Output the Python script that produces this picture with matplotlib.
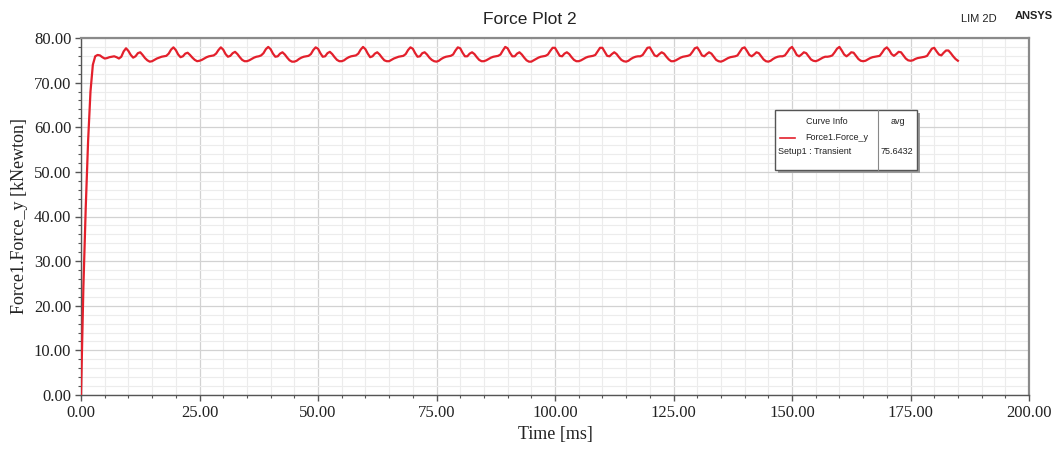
import numpy as np
import matplotlib
matplotlib.use("Agg")
import matplotlib.pyplot as plt
from matplotlib.ticker import MultipleLocator, FormatStrFormatter
from matplotlib.patches import Rectangle
from matplotlib.lines import Line2D

# ---------------- data ----------------
time_step_ms = 0.5
force_rise = [0.0, 24.0, 42.0, 57.0, 68.0, 74.0, 75.9, 76.2, 76.1, 75.7,
              75.4, 75.5, 75.7, 75.8, 75.9, 75.7, 75.4, 75.8, 77.0, 77.7]
force_p01 = [77.1, 76.2, 75.6, 75.9, 76.6, 76.8, 76.2, 75.5, 75.0, 74.7, 74.8, 75.1, 75.4, 75.6, 75.8, 75.9, 76.0, 76.5, 77.4, 77.9]
force_p02 = [77.3, 76.3, 75.7, 75.9, 76.5, 76.7, 76.2, 75.6, 75.1, 74.8, 74.9, 75.1, 75.4, 75.7, 75.9, 76.0, 76.1, 76.5, 77.3, 77.9]
force_p03 = [77.4, 76.4, 75.8, 76.0, 76.6, 76.9, 76.4, 75.7, 75.1, 74.8, 74.8, 75.0, 75.3, 75.6, 75.8, 75.9, 76.1, 76.6, 77.5, 78.0]
force_p04 = [77.5, 76.5, 75.8, 75.9, 76.5, 76.8, 76.3, 75.6, 75.0, 74.7, 74.7, 74.9, 75.3, 75.6, 75.8, 75.9, 76.0, 76.4, 77.3, 77.9]
force_p05 = [77.6, 76.6, 75.8, 75.9, 76.6, 76.9, 76.4, 75.7, 75.1, 74.8, 74.8, 75.0, 75.4, 75.7, 75.9, 76.0, 76.1, 76.5, 77.4, 78.0]
force_p06 = [77.5, 76.5, 75.7, 75.9, 76.5, 76.8, 76.3, 75.6, 75.0, 74.8, 74.8, 75.1, 75.4, 75.6, 75.8, 75.9, 76.0, 76.4, 77.3, 77.9]
force_p07 = [77.6, 76.6, 75.8, 75.9, 76.6, 76.8, 76.3, 75.6, 75.1, 74.8, 74.7, 74.9, 75.3, 75.6, 75.8, 75.9, 76.0, 76.3, 77.2, 77.9]
force_p08 = [77.7, 76.7, 75.9, 75.9, 76.5, 76.8, 76.4, 75.7, 75.1, 74.8, 74.8, 75.0, 75.3, 75.6, 75.8, 75.9, 76.0, 76.3, 77.2, 78.0]
force_p09 = [77.7, 76.7, 75.9, 75.9, 76.5, 76.8, 76.3, 75.6, 75.0, 74.7, 74.7, 75.0, 75.3, 75.6, 75.8, 75.9, 76.0, 76.3, 77.1, 77.8]
force_p10 = [77.8, 76.9, 76.0, 75.9, 76.5, 76.8, 76.4, 75.7, 75.1, 74.8, 74.8, 75.0, 75.3, 75.6, 75.8, 75.9, 76.0, 76.2, 77.0, 77.8]
force_p11 = [77.8, 76.9, 76.0, 75.9, 76.4, 76.8, 76.4, 75.7, 75.1, 74.8, 74.7, 74.9, 75.3, 75.6, 75.8, 75.9, 75.9, 76.2, 77.0, 77.8]
force_p12 = [77.9, 77.0, 76.1, 75.9, 76.4, 76.8, 76.5, 75.8, 75.2, 74.8, 74.8, 75.0, 75.3, 75.6, 75.8, 75.9, 76.0, 76.2, 76.9, 77.7]
force_p13 = [77.9, 77.1, 76.1, 75.9, 76.4, 76.8, 76.5, 75.8, 75.1, 74.8, 74.7, 74.9, 75.2, 75.5, 75.7, 75.8, 75.9, 76.1, 76.9, 77.7]
force_p14 = [77.9, 77.1, 76.2, 75.9, 76.3, 76.8, 76.6, 75.9, 75.2, 74.8, 74.7, 74.9, 75.3, 75.6, 75.8, 75.9, 75.9, 76.1, 76.8, 77.6]
force_p15 = [78.0, 77.2, 76.2, 75.9, 76.3, 76.8, 76.6, 75.9, 75.2, 74.9, 74.8, 75.0, 75.3, 75.6, 75.8, 75.8, 75.9, 76.1, 76.8, 77.6]
force_p16 = [78.0, 77.2, 76.3, 75.9, 76.3, 76.8, 76.7, 76.0, 75.3, 74.9, 74.8, 74.9, 75.2, 75.5, 75.7, 75.8, 75.9, 76.0, 76.7, 77.5]
force_p17 = [77.9, 77.3, 76.4, 76.0, 76.4, 76.9, 76.8, 76.1, 75.4, 75.0, 74.9, 75.0, 75.3, 75.5, 75.6, 75.7, 75.8, 76.0, 76.8, 77.6]
force_end = [77.8, 77.0, 76.3, 76.1, 76.7, 77.2, 77.2, 76.6, 75.9, 75.3, 74.9]

x_ticks = [0, 25, 50, 75, 100, 125, 150, 175, 200]
y_ticks = [0, 10, 20, 30, 40, 50, 60, 70, 80]
title = "Force Plot 2"
x_label = "Time [ms]"
y_label = "Force1.Force_y [kNewton]"
legend_curve = "Force1.Force_y"
legend_setup = "Setup1 : Transient"
legend_avg = "75.6432"

force = (force_rise + force_p01 + force_p02 + force_p03 + force_p04 + force_p05 +
         force_p06 + force_p07 + force_p08 + force_p09 + force_p10 + force_p11 +
         force_p12 + force_p13 + force_p14 + force_p15 + force_p16 + force_p17 +
         force_end)
time = np.arange(len(force)) * time_step_ms

# ---------------- figure ----------------
W, H = 1061, 451
fig = plt.figure(figsize=(W / 100, H / 100), dpi=100)
fig.patch.set_facecolor("white")

def fx(px):
    return px / W

def fy(py):
    return 1 - py / H

ax = fig.add_axes([fx(81), fy(395), fx(1029) - fx(81), fy(38) - fy(395)])
red = "#e3202c"
ax.plot(time, force, color=red, lw=1.6, zorder=3, solid_joinstyle="round")

ax.set_xlim(0, 200)
ax.set_ylim(0, 80)
ax.set_xticks(x_ticks)
ax.set_yticks(y_ticks)
ax.xaxis.set_minor_locator(MultipleLocator(5))
ax.yaxis.set_minor_locator(MultipleLocator(2))
ax.xaxis.set_major_formatter(FormatStrFormatter("%.2f"))
ax.yaxis.set_major_formatter(FormatStrFormatter("%.2f"))

ax.grid(which="major", color="#d2d2d2", lw=0.9)
ax.grid(which="minor", color="#ececec", lw=0.8)
ax.set_axisbelow(True)

serif = ["Liberation Serif", "DejaVu Serif"]
sans = ["Liberation Sans", "DejaVu Sans"]
for lab in ax.get_xticklabels() + ax.get_yticklabels():
    lab.set_fontfamily(serif)
    lab.set_fontsize(12)
    lab.set_color("#222222")
ax.tick_params(which="major", direction="out", length=4, width=1, color="#555555", pad=3)
ax.tick_params(which="minor", direction="out", length=2.5, width=0.8, color="#555555")

for s in ["left", "bottom"]:
    ax.spines[s].set_color("#555555")
    ax.spines[s].set_linewidth(1.0)
for s in ["top", "right"]:
    ax.spines[s].set_color("#8a8a8a")
    ax.spines[s].set_linewidth(1.6)

ax.set_xlabel(x_label, fontfamily=serif, fontsize=13, color="#222222", labelpad=4)
ax.set_ylabel(y_label, fontfamily=serif, fontsize=13, color="#222222", labelpad=4)

fig.text(fx(530), fy(19), title, ha="center", va="center", fontfamily=sans, fontsize=12.5, color="#222222")
fig.text(fx(979), fy(19), "LIM 2D", ha="center", va="center", fontfamily=sans, fontsize=8, color="#222222")
fig.text(fx(1034), fy(16), "ANSYS", ha="center", va="center", fontfamily=sans, fontsize=8, fontweight="bold", color="#222222")

# ---------------- legend table box ----------------
bx0, by0, bx1, by1 = 775, 110, 917, 170
shadow = Rectangle((fx(bx0 + 3), fy(by1 + 3)), fx(bx1 - bx0), fy(by0) - fy(by1),
                   transform=fig.transFigure, facecolor="#9a9a9a", edgecolor="none", zorder=10)
box = Rectangle((fx(bx0), fy(by1)), fx(bx1 - bx0), fy(by0) - fy(by1),
                transform=fig.transFigure, facecolor="white", edgecolor="#555555", lw=1.0, zorder=11)
fig.patches.extend([shadow, box])
fig.lines.append(Line2D([fx(878), fx(878)], [fy(by0), fy(by1)], transform=fig.transFigure,
                        color="#888888", lw=0.8, zorder=12))
fig.lines.append(Line2D([fx(780), fx(795)], [fy(138), fy(138)], transform=fig.transFigure,
                        color=red, lw=1.2, zorder=12))
fs = 6.5
fig.text(fx(827), fy(121), "Curve Info", ha="center", va="center", fontfamily=sans, fontsize=fs, color="#222222", zorder=12)
fig.text(fx(898), fy(121), "avg", ha="center", va="center", fontfamily=sans, fontsize=fs, color="#222222", zorder=12)
fig.text(fx(805), fy(138), legend_curve, ha="left", va="center", fontfamily=sans, fontsize=fs, color="#222222", zorder=12)
fig.text(fx(778), fy(151), legend_setup, ha="left", va="center", fontfamily=sans, fontsize=fs, color="#222222", zorder=12)
fig.text(fx(881), fy(151), legend_avg, ha="left", va="center", fontfamily=sans, fontsize=fs, color="#222222", zorder=12)

fig.savefig("out.png", dpi=100, facecolor="white")
